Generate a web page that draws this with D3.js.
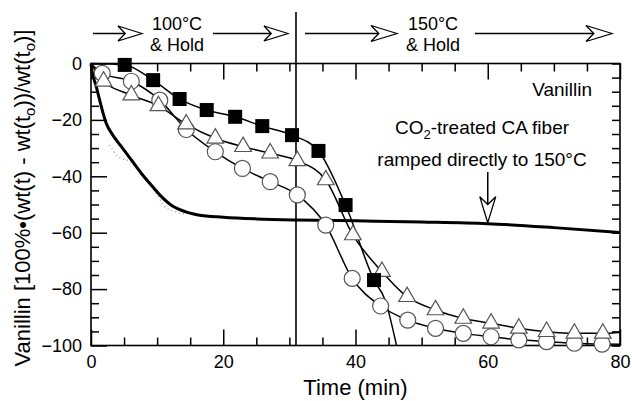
<!DOCTYPE html>
<html>
<head>
<meta charset="utf-8">
<script src="https://cdn.jsdelivr.net/npm/d3@7"></script>
<style>
  body { margin: 0; background: #fff; }
  svg { display: block; font-family: "Liberation Sans", Arial, Helvetica, sans-serif; }
  .axis path { display: none; }
  .axis line { stroke: #000; stroke-width: 1.5; }
  .axis text { font-size: 18px; fill: #000; font-family: "Liberation Sans", Arial, sans-serif; }
</style>
</head>
<body>
<div id="chart"></div>
<script>
// time (min), vanillin change (%)
const squares = [[5.1, -0.5], [9.4, -5.9], [13.4, -12.6], [17.5, -16.5], [21.8, -18.9],
  [25.9, -22.2], [30.4, -25.4], [34.4, -31.0], [38.5, -50.2], [42.8, -76.8]];
const squaresTail = [[44.5, -84], [46.2, -100]];

const triangles = [[1.9, -6.3], [6.1, -11.2], [10.2, -15.0], [14.4, -21.5], [18.8, -26.5],
  [23.0, -29.5], [27.1, -31.8], [31.2, -34.5], [35.5, -41.3], [39.6, -60.8],
  [44.0, -73.8], [47.8, -82.7], [52.1, -87.4], [56.3, -90.4], [60.5, -92.1],
  [64.7, -93.9], [68.9, -95.1], [73.1, -95.7], [77.4, -95.7]];
const trianglesTail = [[80, -95.4]];

const circles = [[1.7, -3.5], [6.1, -6.3], [10.4, -13.0], [14.4, -23.4], [18.8, -31.3],
  [22.9, -37.2], [27.1, -41.9], [31.2, -46.6], [35.5, -57.3], [39.5, -76.2],
  [43.8, -86.0], [47.9, -91.0], [52.1, -93.9], [56.3, -95.7], [60.5, -96.9],
  [64.7, -98.0], [68.9, -98.6], [73.1, -99.2], [77.3, -99.5]];
const circlesTail = [[80, -99.6]];

// CO2-treated CA fiber ramped directly to 150°C
const direct = [[0, 0], [0.05, -1.1], [0.8, -8.2], [1.56, -15.3], [2.3, -21.2], [3.3, -25.4],
  [4.6, -29.5], [6.1, -34.2], [7.6, -38.9], [9.1, -43.1], [10.4, -46.6], [12.1, -50.2],
  [14.7, -52.9], [16.2, -53.7], [20, -54.5], [25, -55.1], [31, -55.5], [40, -55.8],
  [50, -56.2], [60, -56.8], [70, -58.2], [80, -59.9]];
const directRaw = [[2.8, -28.9], [4.1, -33.0], [6.0, -35.0], [8.0, -40.6], [10.0, -46.5],
  [11.1, -50.6], [12.7, -52.5], [14.2, -53.4]];

const origin = [0, 0];
const holdSwitch = 31;
const xMajor = [0, 20, 40, 60, 80];
const yMajor = [0, -20, -40, -60, -80, -100];

const width = 632, height = 401;
const margin = { top: 63.5, right: 12, bottom: 55.5, left: 91 };

const svg = d3.select('#chart')
  .append('svg')
    .attr('width', width)
    .attr('height', height);

const x = d3.scaleLinear().domain([0, 80]).range([margin.left, width - margin.right]);
const y = d3.scaleLinear().domain([-100, 0]).range([height - margin.bottom, margin.top]);

const minorX = d3.range(0, 81, 5).filter(d => d % 20 !== 0);
const minorY = d3.range(-100, 1, 5).filter(d => d % 20 !== 0);

// axes (ticks point inward)
svg.append('g').attr('class', 'axis')
  .attr('transform', `translate(0,${y(-100)})`)
  .call(d3.axisBottom(x).tickValues(xMajor).tickSize(-16).tickPadding(10).tickFormat(d3.format('d')));
svg.append('g').attr('class', 'axis')
  .attr('transform', `translate(0,${y(-100)})`)
  .call(d3.axisBottom(x).tickValues(minorX).tickSize(-8).tickFormat(''));
svg.append('g').attr('class', 'axis')
  .attr('transform', `translate(0,${y(0)})`)
  .call(d3.axisTop(x).tickValues(xMajor).tickSize(-16).tickFormat(''));
svg.append('g').attr('class', 'axis')
  .attr('transform', `translate(0,${y(0)})`)
  .call(d3.axisTop(x).tickValues(minorX).tickSize(-8).tickFormat(''));

svg.append('g').attr('class', 'axis')
  .attr('transform', `translate(${x(0)},0)`)
  .call(d3.axisLeft(y).tickValues(yMajor).tickSize(-16).tickPadding(9).tickFormat(d3.format('d')));
svg.append('g').attr('class', 'axis')
  .attr('transform', `translate(${x(0)},0)`)
  .call(d3.axisLeft(y).tickValues(minorY).tickSize(-8).tickFormat(''));
svg.append('g').attr('class', 'axis')
  .attr('transform', `translate(${x(80)},0)`)
  .call(d3.axisRight(y).tickValues(d3.range(-100, 1, 5)).tickSize(-8).tickFormat(''));

svg.append('rect')
  .attr('x', x(0)).attr('y', y(0))
  .attr('width', x(80) - x(0)).attr('height', y(-100) - y(0))
  .attr('fill', 'none').attr('stroke', '#000').attr('stroke-width', 1.6);

// temperature switch line
svg.append('line')
  .attr('x1', x(holdSwitch)).attr('x2', x(holdSwitch))
  .attr('y1', 12).attr('y2', y(-100))
  .attr('stroke', '#000').attr('stroke-width', 1.6);

const line = d3.line().x(d => x(d[0])).y(d => y(d[1])).curve(d3.curveMonotoneX);

svg.append('path').datum(directRaw)
  .attr('d', line).attr('fill', 'none')
  .attr('stroke', '#999').attr('stroke-width', 1.2).attr('stroke-dasharray', '1,3');
svg.append('path').datum(direct)
  .attr('d', line).attr('fill', 'none')
  .attr('stroke', '#000').attr('stroke-width', 3);

[[origin, ...squares, ...squaresTail],
 [origin, ...triangles, ...trianglesTail],
 [origin, ...circles, ...circlesTail]].forEach(pts => {
  svg.append('path').datum(pts)
    .attr('d', line).attr('fill', 'none')
    .attr('stroke', '#000').attr('stroke-width', 1.5);
});

svg.append('g').selectAll('circle')
  .data(circles)
  .enter().append('circle')
    .attr('cx', d => x(d[0]))
    .attr('cy', d => y(d[1]))
    .attr('r', 8)
    .attr('fill', '#fff')
    .attr('stroke', '#555')
    .attr('stroke-width', 1.2);

const tri = d3.symbol().type(d3.symbolTriangle).size(120);
svg.append('g').selectAll('path')
  .data(triangles)
  .enter().append('path')
    .attr('d', tri)
    .attr('transform', d => `translate(${x(d[0])},${y(d[1])})`)
    .attr('fill', '#fff')
    .attr('stroke', '#555')
    .attr('stroke-width', 1.2);

svg.append('g').selectAll('rect')
  .data(squares)
  .enter().append('rect')
    .attr('x', d => x(d[0]) - 7)
    .attr('y', d => y(d[1]) - 7)
    .attr('width', 14)
    .attr('height', 14)
    .attr('fill', '#000');

// open arrows
function arrow(x1, y1, x2, y2, len, half) {
  const a = Math.atan2(y2 - y1, x2 - x1);
  const g = svg.append('g');
  g.append('line')
    .attr('x1', x1).attr('y1', y1)
    .attr('x2', x2 - Math.cos(a) * len * 0.7)
    .attr('y2', y2 - Math.sin(a) * len * 0.7)
    .attr('stroke', '#000').attr('stroke-width', 1.5);
  g.append('path')
    .attr('d', `M0,0 L${-len},${-half} L${-len * 0.7},0 L${-len},${half} Z`)
    .attr('transform', `translate(${x2},${y2}) rotate(${a * 180 / Math.PI})`)
    .attr('fill', '#fff').attr('stroke', '#000').attr('stroke-width', 1.3);
}

arrow(93, 33.5, 142, 33.5, 24, 7.5);
arrow(213, 33.5, 288, 33.5, 24, 7.5);
arrow(305, 33.5, 397, 33.5, 26, 8);
arrow(475, 33.5, 612, 33.5, 26, 8);
arrow(x(60), 172, x(60), y(-56.8) - 1, 26, 8);

const ann = svg.append('g')
  .attr('font-size', 18)
  .attr('fill', '#000');

[['100°C', 177, 30], ['& Hold', 177, 51], ['150°C', 433, 30], ['& Hold', 433, 51]]
  .forEach(([t, tx, ty]) => {
    ann.append('text').attr('x', tx).attr('y', ty).attr('text-anchor', 'middle').text(t);
  });

ann.append('text').attr('x', 592).attr('y', 96).attr('text-anchor', 'end')
  .attr('font-size', 19).text('Vanillin');

const co2 = ann.append('text').attr('x', 482).attr('y', 134)
  .attr('text-anchor', 'middle').attr('font-size', 19);
co2.append('tspan').text('CO');
co2.append('tspan').attr('font-size', 13).attr('dy', 5).text('2');
co2.append('tspan').attr('dy', -5).text('-treated CA fiber');

ann.append('text').attr('x', 482).attr('y', 166).attr('text-anchor', 'middle')
  .attr('font-size', 19).text('ramped directly to 150°C');

// axis titles
svg.append('text')
  .attr('x', (x(0) + x(80)) / 2).attr('y', 395)
  .attr('text-anchor', 'middle').attr('font-size', 22)
  .text('Time (min)');

const yt = svg.append('text')
  .attr('transform', 'translate(30,198) rotate(-90)')
  .attr('text-anchor', 'middle').attr('font-size', 22);
yt.append('tspan').text('Vanillin [100%•(wt(t) - wt(t');
yt.append('tspan').attr('font-size', 15).attr('dy', 5).text('o');
yt.append('tspan').attr('dy', -5).text('))/wt(t');
yt.append('tspan').attr('font-size', 15).attr('dy', 5).text('o');
yt.append('tspan').attr('dy', -5).text(')]');
</script>
</body>
</html>
